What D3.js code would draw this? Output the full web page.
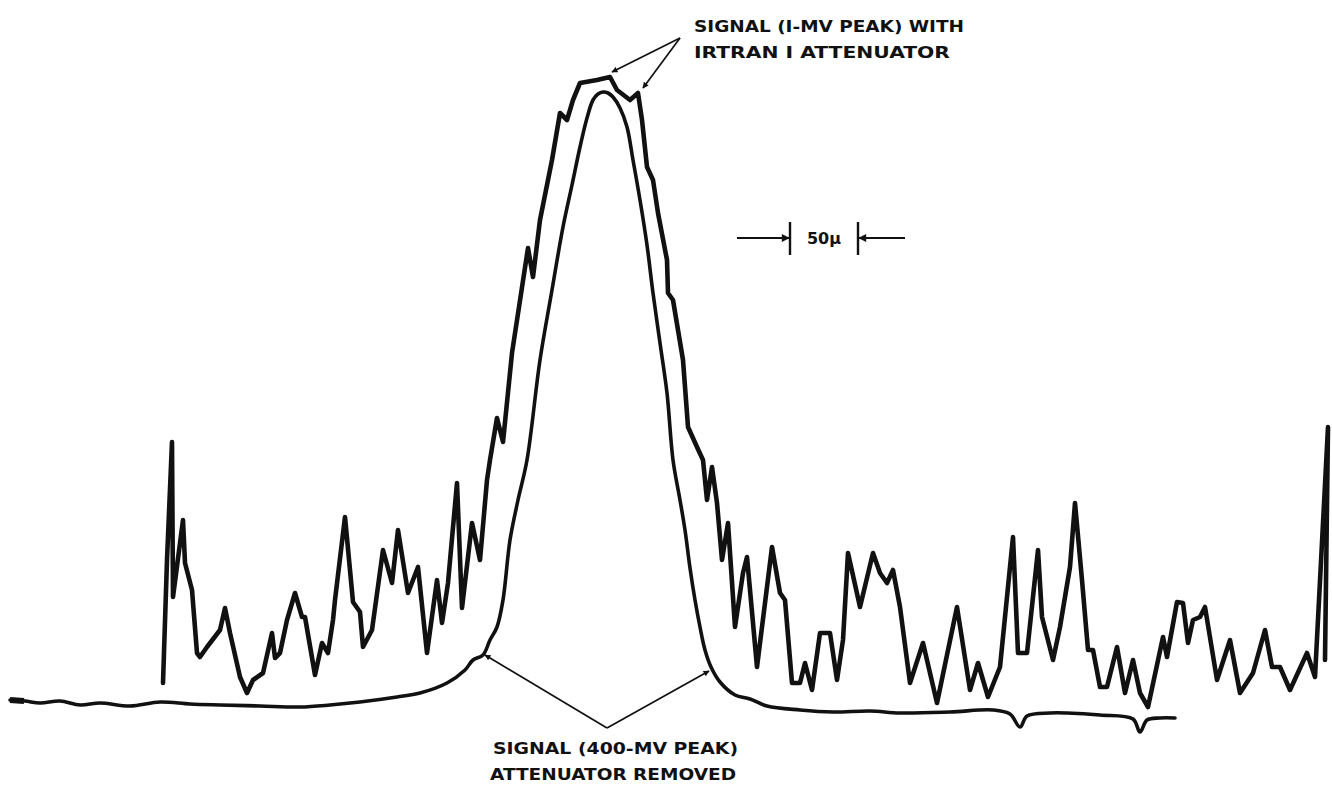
<!DOCTYPE html>
<html>
<head>
<meta charset="utf-8">
<script src="https://cdn.jsdelivr.net/npm/d3@7"></script>
<style>
  body { margin: 0; background: #fff; }
  svg { display: block; }
  .lbl { font-family: "DejaVu Sans", sans-serif; font-weight: bold; font-size: 16px; fill: #111; }
</style>
</head>
<body>
<svg id="chart" width="1332" height="785"></svg>
<script>
// trace: [position, deflection above baseline]
var attenuatedTrace = [
  [163,22],[167,145],[172,263],[173,108],[183,185],[185,142],[192,115],[197,52],[200,48],
  [207,58],[220,75],[225,97],[230,72],[240,28],[247,12],[253,25],[263,32],[272,72],
  [275,47],[280,52],[287,85],[295,112],[302,88],[305,88],[315,30],[322,62],[328,52],
  [333,85],[335,105],[345,188],[353,103],[360,93],[363,58],[372,75],[383,155],[392,122],
  [398,175],[408,112],[418,138],[427,52],[437,125],[442,82],[448,122],[457,222],[462,97],
  [472,182],[480,145],[487,225],[490,245],[497,287],[503,263],[512,352],[528,457],
  [533,428],[540,485],[552,545],[560,592],[567,585],[573,605],[580,622],[597,625],
  [610,628],[617,615],[630,605],[638,612],[642,585],[647,538],[653,525],[658,492],
  [667,445],[668,412],[673,405],[683,345],[688,278],[697,258],[703,245],[707,205],
  [712,238],[717,202],[722,145],[728,182],[735,78],[743,132],[747,148],[757,38],
  [772,158],[780,112],[785,105],[792,22],[800,22],[805,42],[812,15],[820,72],[830,72],
  [837,25],[843,65],[848,152],[860,98],[873,152],[880,132],[887,122],[893,135],[900,98],
  [910,22],[923,62],[937,2],[957,98],[970,15],[978,42],[988,8],[1000,38],[1013,168],
  [1018,52],[1027,52],[1038,155],[1042,88],[1053,45],[1060,78],[1070,138],[1075,202],
  [1082,125],[1088,55],[1093,55],[1100,18],[1107,18],[1117,58],[1125,12],[1133,45],
  [1140,12],[1148,-2],[1163,68],[1167,48],[1177,103],[1183,102],[1188,62],[1193,85],
  [1200,88],[1205,98],[1217,25],[1230,65],[1240,12],[1253,32],[1265,75],[1272,38],
  [1280,38],[1290,15],[1307,52],[1315,28],[1328,278],[1325,45]
];

var removedTrace = [
  [10,5],[25,4],[40,2],[60,4],[80,0],[100,2],[130,-1],[160,3],[190,1],[220,0],[260,-1],
  [300,-2],[330,0],[360,3],[397,8],[420,12],[447,22],[465,35],[473,45],[483,50],[490,65],
  [497,78],[503,105],[510,165],[518,205],[527,245],[540,345],[552,415],[563,478],[572,520],
  [580,558],[587,587],[593,605],[598,611],[603,613],[608,612],[613,608],[620,597],[627,578],
  [633,545],[640,505],[647,460],[653,412],[660,362],[667,312],[673,245],[680,205],[685,175],
  [690,137],[695,105],[700,78],[705,55],[711,38],[720,23],[735,10],[750,6],[767,-1],
  [800,-5],[833,-7],[870,-6],[900,-8],[950,-7],[993,-5],[1010,-9],[1020,-22],[1027,-11],
  [1050,-8],[1067,-8],[1100,-10],[1133,-14],[1140,-27],[1147,-15],[1160,-13],[1175,-13]
];

var topLabel = ["SIGNAL (I-MV PEAK) WITH", "IRTRAN I ATTENUATOR"];
var bottomLabel = ["SIGNAL (400-MV PEAK)", "ATTENUATOR REMOVED"];
var scaleLabel = "50\u03bc";
var scaleBarLength = 68;   // 50 micron in chart position units

// arrow apex and tips, in chart units
var topArrows = { from: [680, 667], to: [[612, 633], [643, 617]] };
var bottomArrows = { from: [607, -23], to: [[485, 50], [709, 34]] };

var svg = d3.select("#chart");

var x = d3.scaleLinear().domain([0, 1332]).range([0, 1332]);
var y = d3.scaleLinear().domain([0, 640]).range([705, 65]);

svg.append("rect").attr("width", 1332).attr("height", 785).attr("fill", "#fff");

var defs = svg.append("defs");
function marker(id, w, h){
  defs.append("marker")
    .attr("id", id)
    .attr("viewBox", "0 0 10 10")
    .attr("refX", 9).attr("refY", 5)
    .attr("markerWidth", w).attr("markerHeight", h)
    .attr("markerUnits", "userSpaceOnUse")
    .attr("orient", "auto")
    .append("path").attr("d", "M0,0 L10,5 L0,10 z").attr("fill", "#111");
}
marker("head", 8, 6);
marker("bighead", 11, 8);

var line = d3.line()
  .x(function(d){ return x(d[0]); })
  .y(function(d){ return y(d[1]); });

svg.append("path")
  .datum(removedTrace)
  .attr("d", line.curve(d3.curveCatmullRom))
  .attr("fill", "none")
  .attr("stroke", "#111")
  .attr("stroke-width", 3.6)
  .attr("stroke-linejoin", "round")
  .attr("stroke-linecap", "round");

// heavier start of the pen on the left
svg.append("line")
  .attr("x1", x(10)).attr("x2", x(24))
  .attr("y1", y(5)).attr("y2", y(4))
  .attr("stroke", "#111").attr("stroke-width", 6);

svg.append("path")
  .datum(attenuatedTrace)
  .attr("d", line.curve(d3.curveLinear))
  .attr("fill", "none")
  .attr("stroke", "#111")
  .attr("stroke-width", 4.6)
  .attr("stroke-linejoin", "round")
  .attr("stroke-linecap", "round");

function arrows(a){
  a.to.forEach(function(t){
    svg.append("line")
      .attr("x1", x(a.from[0])).attr("y1", y(a.from[1]))
      .attr("x2", x(t[0])).attr("y2", y(t[1]))
      .attr("stroke", "#111").attr("stroke-width", 1.7)
      .attr("marker-end", "url(#head)");
  });
}
arrows(topArrows);
arrows(bottomArrows);

function label(lines, x0, y0, widths){
  lines.forEach(function(s, i){
    svg.append("text")
      .attr("class", "lbl")
      .attr("x", x0[i]).attr("y", y0 + i * 26)
      .attr("textLength", widths[i])
      .attr("lengthAdjust", "spacingAndGlyphs")
      .text(s);
  });
}
label(topLabel, [694, 694], 32, [270, 256]);
label(bottomLabel, [493, 490], 754, [245, 246]);

// 50 micron scale bar
var sx0 = x(790), sx1 = x(790 + scaleBarLength), sy = y(467);
[sx0, sx1].forEach(function(v){
  svg.append("line")
    .attr("x1", v).attr("x2", v)
    .attr("y1", sy - 16).attr("y2", sy + 17)
    .attr("stroke", "#111").attr("stroke-width", 2.4);
});
svg.append("line")
  .attr("x1", sx0 - 53).attr("x2", sx0 - 1)
  .attr("y1", sy).attr("y2", sy)
  .attr("stroke", "#111").attr("stroke-width", 2.2)
  .attr("marker-end", "url(#bighead)");
svg.append("line")
  .attr("x1", sx1 + 47).attr("x2", sx1 + 1)
  .attr("y1", sy).attr("y2", sy)
  .attr("stroke", "#111").attr("stroke-width", 2.2)
  .attr("marker-end", "url(#bighead)");
svg.append("text")
  .attr("class", "lbl")
  .attr("x", (sx0 + sx1) / 2).attr("y", sy + 6)
  .attr("text-anchor", "middle")
  .style("font-size", "16px")
  .text(scaleLabel);
</script>
</body>
</html>
